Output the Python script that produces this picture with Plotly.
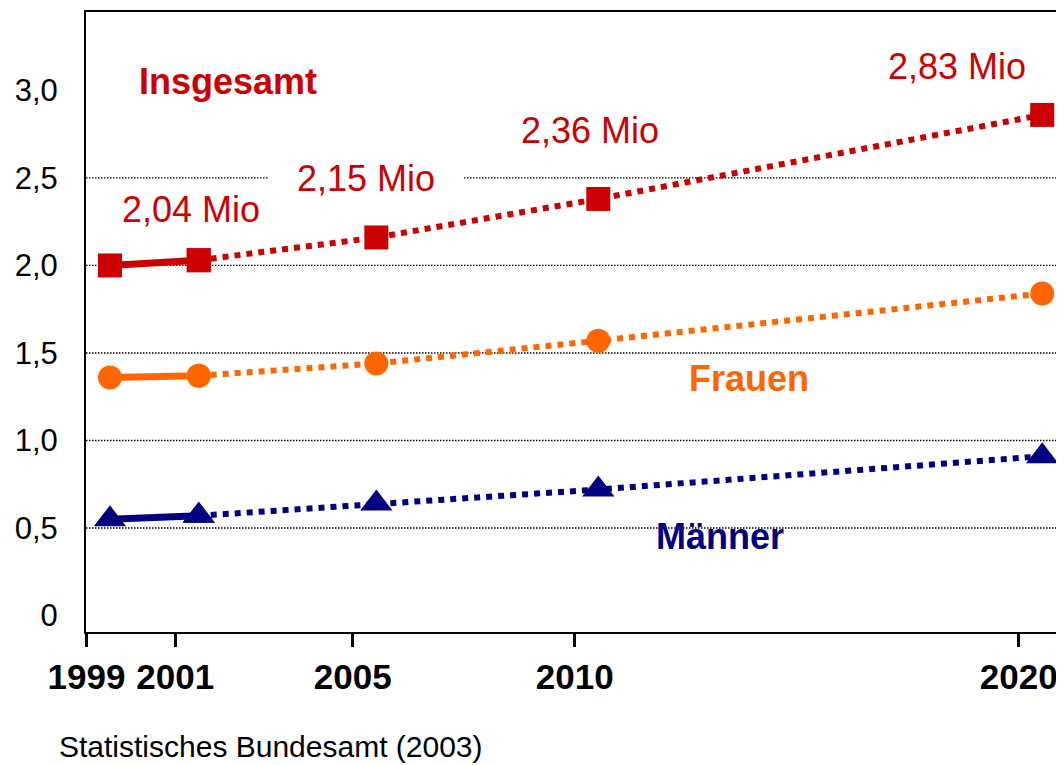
import plotly.graph_objects as go

# ---------------- data ----------------
years = [1999, 2001, 2005, 2010, 2020]
insgesamt = [2.00, 2.03, 2.16, 2.38, 2.86]
frauen = [1.36, 1.37, 1.44, 1.57, 1.84]
maenner = [0.55, 0.57, 0.64, 0.72, 0.91]
n_observed = 2  # 1999, 2001 observed (solid); later years projected (dotted)

x_ticktext = ["1999", "2001", "2005", "2010", "2020"]
y_tickvals = [0, 0.5, 1.0, 1.5, 2.0, 2.5, 3.0]
y_ticktext = ["0", "0,5", "1,0", "1,5", "2,0", "2,5", "3,0"]
grid_levels = [0.5, 1.0, 1.5, 2.0, 2.5]
mio_labels = ["2,04 Mio", "2,15 Mio", "2,36 Mio", "2,83 Mio"]
series_names = ["Insgesamt", "Frauen", "Männer"]
source_text = "Statistisches Bundesamt (2003)"

# ---------------- style ----------------
FONT = "Liberation Sans, Arial, sans-serif"
RED = "#CC0000"
ORANGE = "#FF6600"
NAVY = "#000080"
tick_shift = -0.53  # year ticks sit slightly left of the plotted points in the original

fig = go.Figure()

series = [
    (insgesamt, RED, "square", 24),
    (frauen, ORANGE, "circle", 24),
    (maenner, NAVY, "triangle-up", 28),
]

for (vals, color, symbol, msize), name in zip(series, series_names):
    # projected part (dotted)
    fig.add_trace(go.Scatter(
        x=years[n_observed - 1:], y=vals[n_observed - 1:],
        mode="lines+markers", name=name, showlegend=False,
        line=dict(color=color, width=6, dash="dot"),
        marker=dict(symbol=symbol, size=msize, color=color, line=dict(width=0)),
        hoverinfo="x+y",
    ))
    # observed part (solid)
    fig.add_trace(go.Scatter(
        x=years[:n_observed], y=vals[:n_observed],
        mode="lines+markers", name=name, showlegend=False,
        line=dict(color=color, width=7),
        marker=dict(symbol=symbol, size=msize, color=color, line=dict(width=0)),
        hoverinfo="x+y",
    ))

# dotted grid lines
shapes = []
for lv in grid_levels:
    shapes.append(dict(
        type="line", xref="paper", x0=0, x1=1, yref="y", y0=lv, y1=lv,
        line=dict(color="black", width=1.3, dash="1.5px,1.5px"), layer="below",
    ))

annotations = []
# series names
name_pos = [(2001.65, 3.05, RED), (2013.39, 1.355, ORANGE), (2012.75, 0.451, NAVY)]
for name, (ax_, ay_, col) in zip(series_names, name_pos):
    annotations.append(dict(
        x=ax_, y=ay_, xref="x", yref="y", text=name, showarrow=False,
        font=dict(family=FONT, size=36, color=col, weight=700),
        xanchor="center", yanchor="middle",
    ))

# value labels
label_pos = [(2000.83, 2.319, False), (2004.77, 2.497, True),
             (2009.81, 2.773, False), (2018.07, 3.137, False)]
for txt, (lx, ly, boxed) in zip(mio_labels, label_pos):
    a = dict(
        x=lx, y=ly, xref="x", yref="y", text=txt, showarrow=False,
        font=dict(family=FONT, size=36, color=RED),
        xanchor="center", yanchor="middle",
    )
    if boxed:
        a.update(bgcolor="white", width=182, borderpad=6)
    annotations.append(a)

# source
annotations.append(dict(
    x=-0.0297, y=-0.184, xref="paper", yref="paper", text=source_text,
    showarrow=False, xanchor="left", yanchor="middle",
    font=dict(family=FONT, size=30, color="black"),
))

# the page body adds an 8px offset, so the figure is 8px smaller than the window
fig.update_layout(
    width=1056, height=757,
    margin=dict(l=78, r=2, t=2, b=133, pad=0),
    paper_bgcolor="white", plot_bgcolor="white",
    showlegend=False,
    shapes=shapes,
    annotations=annotations,
    xaxis=dict(
        range=[1998.46, 2020.40],
        tickmode="array",
        tickvals=[y + tick_shift for y in years],
        ticktext=x_ticktext,
        ticks="outside", ticklen=13, tickwidth=3, tickcolor="black",
        showline=True, linewidth=2, linecolor="black", mirror=True,
        showgrid=False, zeroline=False,
        tickfont=dict(family=FONT, size=35, color="black", weight=700),
    ),
    yaxis=dict(
        range=[-0.094, 3.448],
        tickmode="array", tickvals=y_tickvals, ticktext=y_ticktext,
        ticks="", ticklabelstandoff=20,
        showline=True, linewidth=2, linecolor="black", mirror=True,
        showgrid=False, zeroline=False,
        tickfont=dict(family=FONT, size=31, color="black"),
    ),
)

fig.write_html("out.html")
